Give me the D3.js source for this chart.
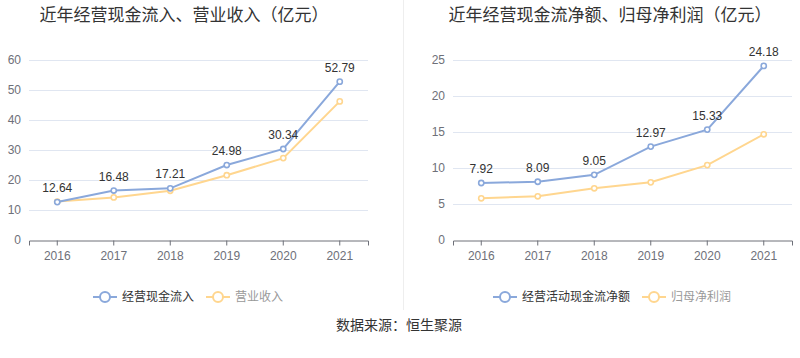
<!DOCTYPE html>
<html><head><meta charset="utf-8">
<script src="https://cdn.jsdelivr.net/npm/d3@7/dist/d3.min.js"></script>
<style>body{margin:0;background:#fff}svg{display:block;font-family:"Liberation Sans","Noto Sans CJK SC",sans-serif}</style>
</head><body><svg id="c" width="800" height="358"></svg>
<script>
const years = ["2016","2017","2018","2019","2020","2021"];
const leftTitle = "近年经营现金流入、营业收入（亿元）";
const rightTitle = "近年经营现金流净额、归母净利润（亿元）";
const leftNames = ["经营现金流入","营业收入"];
const rightNames = ["经营活动现金流净额","归母净利润"];
const cashIn = [12.64,16.48,17.21,24.98,30.34,52.79];
const revenue = [12.8,14.2,16.4,21.6,27.3,46.2];
const cashNet = [7.92,8.09,9.05,12.97,15.33,24.18];
const netProfit = [5.79,6.07,7.18,8.01,10.4,14.68];
const leftTicks = [0,10,20,30,40,50,60];
const rightTicks = [0,5,10,15,20,25];
const source = "数据来源：恒生聚源";

const svg = d3.select("#c");
const BLUE = "#8aa8db", ORANGE = "#ffd68f";
const CJK = '"Noto Sans CJK SC",sans-serif';

svg.append("line").attr("x1",403.5).attr("x2",403.5).attr("y1",0).attr("y2",310)
  .attr("stroke","#eeeeee").attr("stroke-width",1);

function panel(o){
  const g = svg.append("g");
  const x = d3.scaleBand().domain(years).range([o.x0,o.x1]);
  const y = d3.scaleLinear().domain([0,o.max]).range([240,60]);
  g.append("text").attr("x",o.tx).attr("y",21).attr("text-anchor","middle")
    .attr("font-size",17).attr("fill","#333").style("font-family",CJK).text(o.title);
  // grid
  g.append("g").selectAll("line").data(o.ticks.filter(d=>d>0)).join("line")
    .attr("x1",o.x0).attr("x2",o.x1).attr("y1",d=>Math.round(y(d))+0.5).attr("y2",d=>Math.round(y(d))+0.5)
    .attr("stroke","#e0e6f1");
  // y labels
  g.append("g").selectAll("text").data(o.ticks).join("text")
    .attr("x",o.x0-8).attr("y",d=>y(d)).attr("dy","0.35em").attr("text-anchor","end")
    .attr("font-size",12).attr("fill","#6e7079").text(d=>d);
  // x axis
  const ax = g.append("g").attr("transform","translate(0,240.5)")
    .call(d3.axisBottom(x).tickSize(5).tickPadding(6));
  ax.select(".domain").attr("stroke","#6e7079");
  ax.selectAll(".tick line").attr("stroke","#6e7079");
  ax.selectAll(".tick text").attr("font-size",12).attr("fill","#6e7079").style("font-family","Liberation Sans");
  const cx = d=>x(d)+x.bandwidth()/2;
  const line = d3.line().x((d,i)=>cx(years[i])).y(d=>y(d));
  [[o.s2,ORANGE],[o.s1,BLUE]].forEach(([s,c])=>{
    g.append("path").datum(s).attr("d",line).attr("fill","none").attr("stroke",c).attr("stroke-width",2);
    g.append("g").selectAll("circle").data(s).join("circle")
      .attr("cx",(d,i)=>cx(years[i])).attr("cy",d=>y(d)).attr("r",2.6)
      .attr("fill","#fff").attr("stroke",c).attr("stroke-width",1.6);
  });
  g.append("g").selectAll("text").data(o.s1).join("text")
    .attr("x",(d,i)=>cx(years[i])).attr("y",d=>y(d)-10).attr("text-anchor","middle")
    .attr("font-size",12).attr("fill","#333").text(d=>d.toFixed(2));
  // legend
  o.legend.forEach((L,i)=>{
    const c = i===0?BLUE:ORANGE;
    const lg = g.append("g");
    lg.append("line").attr("x1",L.ix).attr("x2",L.ix+24).attr("y1",297).attr("y2",297)
      .attr("stroke",c).attr("stroke-width",2);
    lg.append("circle").attr("cx",L.ix+12).attr("cy",297).attr("r",5)
      .attr("fill","#fff").attr("stroke",c).attr("stroke-width",2);
    lg.append("text").attr("x",L.ix+29).attr("y",297).attr("dy","0.35em")
      .attr("font-size",12).attr("fill",i===0?"#333":"#999").style("font-family",CJK).text(L.name);
  });
}
panel({x0:29,x1:368,max:60,ticks:leftTicks,title:leftTitle,tx:184,s1:cashIn,s2:revenue,
  legend:[{ix:93,name:leftNames[0]},{ix:206,name:leftNames[1]}]});
panel({x0:453,x1:792,max:25,ticks:rightTicks,title:rightTitle,tx:610,s1:cashNet,s2:netProfit,
  legend:[{ix:493,name:rightNames[0]},{ix:642,name:rightNames[1]}]});
svg.append("text").attr("x",399).attr("y",325).attr("dy","0.35em").attr("text-anchor","middle")
  .attr("font-size",14).attr("fill","#333").style("font-family",CJK).text(source);
</script></body></html>
